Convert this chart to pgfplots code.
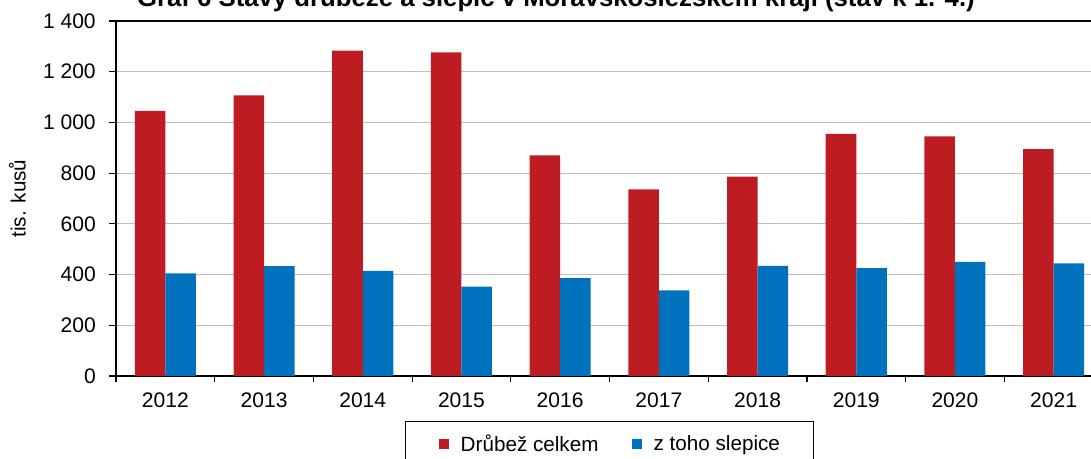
\documentclass[border=0pt]{standalone}
\usepackage{pgfplots}
\pgfplotsset{compat=1.18}
\usepackage{fontspec}
\setmainfont{Liberation Sans}
\definecolor{cred}{RGB}{190,28,35}
\definecolor{cblue}{RGB}{0,113,188}
\definecolor{cgrid}{RGB}{190,190,190}
\begin{document}
\begin{tikzpicture}
\begin{axis}[
  scale only axis,
  width=740.25pt, height=266.25pt,
  xmin=-0.5, xmax=9.5,
  ymin=0, ymax=1400,
  ybar=0pt, bar width=22.9pt,
  axis line style={black, line width=1.1pt},
  xtick={0,...,9},
  xticklabels={2012,2013,2014,2015,2016,2017,2018,2019,2020,2021},
  major x tick style={draw=none},
  minor xtick={-0.5,0.5,...,9.5},
  minor tick length=4.5pt,
  x tick style={black, line width=0.9pt},
  xtick pos=bottom, ytick pos=left,
  tick align=outside,
  ytick={0,200,...,1400},
  yticklabels={0,200,400,600,800,1 000,1 200,1 400},
  y tick style={black, line width=0.9pt},
  major tick length=5.25pt,
  ymajorgrids,
  grid style={cgrid, line width=0.8pt},
  xticklabel style={anchor=center, inner sep=0pt, yshift=-13pt},
  yticklabel style={anchor=east, inner sep=0pt, xshift=-9.75pt},
  ticklabel style={font=\fontsize{15.8}{18}\selectfont},
  ylabel={tis. kusů},
  ylabel style={at={(axis description cs:-0.0998,0.5)}, anchor=center, font=\fontsize{15.5}{18}\selectfont},
  every axis title shift=0pt,
  title={\textbf{Graf 6 Stavy drůbeže a slepic v Moravskoslezském kraji (stav k 1. 4.)}},
  title style={at={(axis description cs:0.4458,1.0408)}, anchor=base, inner sep=0pt, font=\fontsize{19.3}{22}\selectfont},
  legend style={at={(axis description cs:0.5,-0.1258)}, anchor=north, draw=black, line width=0.8pt,
    legend columns=2, font=\fontsize{15.5}{18}\selectfont,
    inner xsep=25pt, inner ysep=10pt,
    nodes={inner sep=0pt},
    /tikz/every odd column/.append style={column sep=8.8pt},
    /tikz/every even column/.append style={column sep=25pt}},
  legend image code/.code={\fill[#1] (0pt,-3.75pt) rectangle (7.5pt,3.75pt);},
]
\addplot[fill=cred, draw=none] coordinates {(0,1046) (1,1107) (2,1283) (3,1276) (4,870) (5,736) (6,786) (7,955) (8,945) (9,895)};
\addplot[fill=cblue, draw=none] coordinates {(0,405) (1,433) (2,415) (3,352) (4,386) (5,338) (6,434) (7,425) (8,450) (9,444)};
\legend{Drůbež celkem, z toho slepice}
\end{axis}
\pgfresetboundingbox
\useasboundingbox (-87pt,-62.25pt) rectangle (731.25pt,282pt);
\end{tikzpicture}
\end{document}
